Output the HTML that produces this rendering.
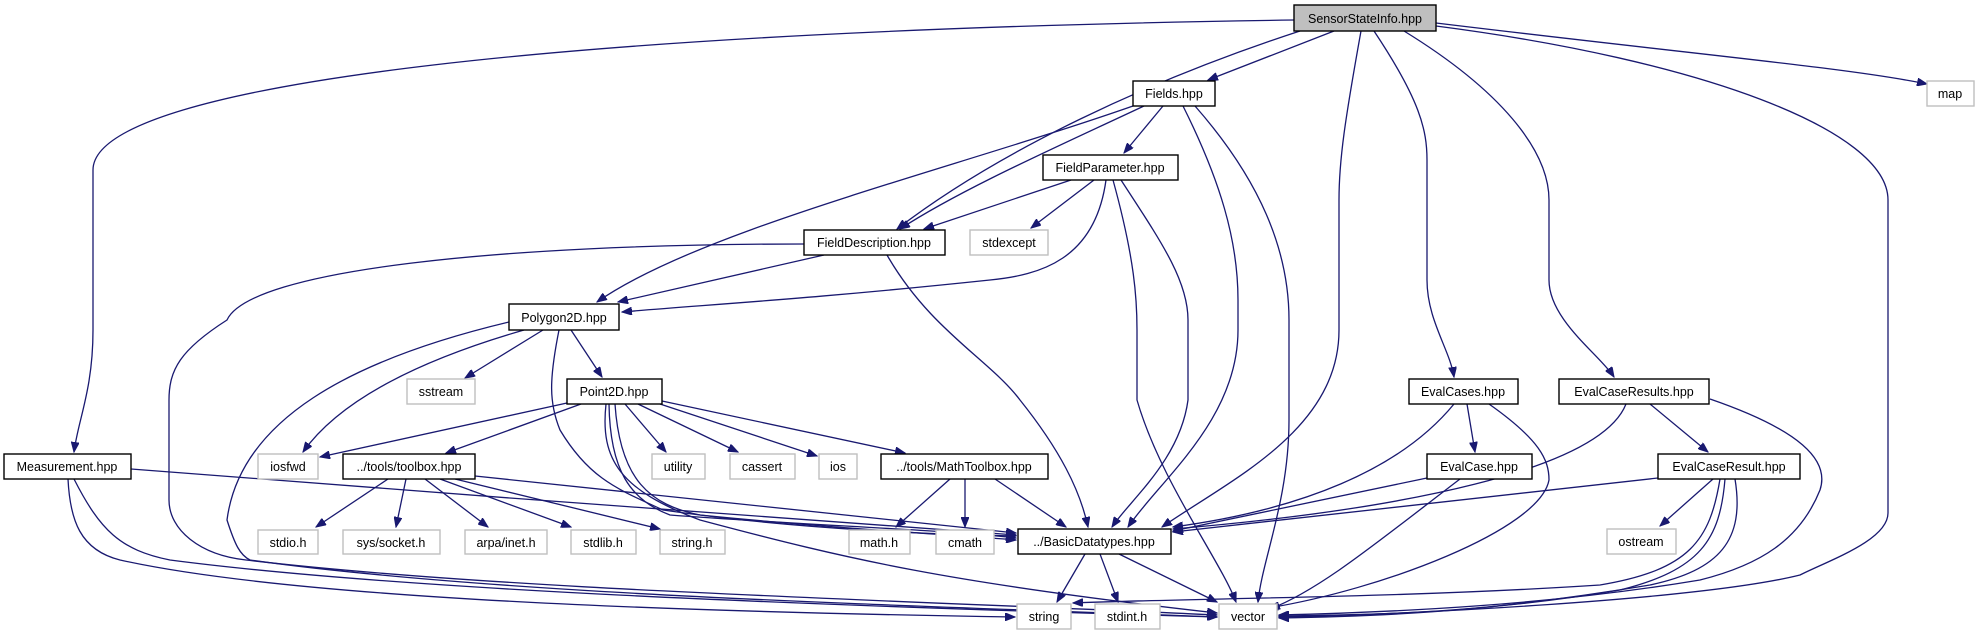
<!DOCTYPE html>
<html><head><meta charset="utf-8"><style>
html,body{margin:0;padding:0;background:#fff;}
svg{display:block;}
text{font-family:"Liberation Sans",Arial,sans-serif;font-size:12.5px;fill:#000;text-anchor:middle;}
.n{fill:#fff;stroke:#000;stroke-width:1.4;}
.s{fill:#fff;stroke:#bfbfbf;stroke-width:1.4;}
path{fill:none;stroke:#191970;stroke-width:1.3;}
</style></head><body>
<svg width="1980" height="635" viewBox="0 0 1980 635" xmlns="http://www.w3.org/2000/svg">
<defs>
<marker id="a" markerWidth="11" markerHeight="8" refX="10" refY="4" orient="auto" markerUnits="userSpaceOnUse">
<path d="M0,0 L10,4 L0,8 Z" style="fill:#191970;stroke:#191970;stroke-width:1"/>
</marker>
</defs>
<g marker-end="url(#a)">
<!-- SensorStateInfo -->
<path d="M1294,20 C600,30 93,80 93,170 L93,330 C93,390 78,420 74,452"/>
<path d="M1300,31 C1150,80 1000,150 897,229"/>
<path d="M1334,31 L1208,80"/>
<path d="M1361,31 C1345,120 1339,160 1339,200 L1339,330 C1339,430 1230,480 1162,527"/>
<path d="M1374,31 C1420,100 1427,130 1427,160 L1427,280 C1427,320 1450,350 1454,377"/>
<path d="M1404,31 C1500,90 1549,150 1549,200 L1549,280 C1549,320 1600,355 1614,377"/>
<path d="M1436,23 C1700,55 1850,68 1927,84"/>
<path d="M1436,26 C1700,60 1888,130 1888,200 L1888,513 C1888,540 1830,560 1800,575 C1700,600 1400,615 1279,617"/>
<!-- Fields -->
<path d="M1133,106 C950,170 700,230 597,302"/>
<path d="M1144,106 C1050,150 960,190 900,229"/>
<path d="M1163,106 L1124,153"/>
<path d="M1183,106 C1220,180 1238,240 1238,300 L1238,330 C1238,420 1160,480 1128,527"/>
<path d="M1195,106 C1260,180 1289,250 1289,320 L1289,420 C1289,500 1262,560 1258,602"/>
<!-- FieldParameter -->
<path d="M1071,180 L924,229"/>
<path d="M1094,180 L1031,228"/>
<path d="M1106,180 C1095,260 1040,275 990,280 C800,300 700,305 622,312"/>
<path d="M1113,180 C1135,260 1137,300 1137,330 L1137,400 C1160,480 1220,560 1236,602"/>
<path d="M1121,180 C1160,240 1188,280 1188,320 L1188,400 C1180,460 1130,500 1112,527"/>
<!-- FieldDescription -->
<path d="M824,255 L618,302"/>
<path d="M887,255 C930,330 990,360 1020,400 C1060,450 1080,490 1088,527"/>
<path d="M804,244 C500,244 250,270 227,320 C180,350 169,370 169,400 L169,500 C169,530 200,555 246,560 C500,590 900,600 1217,615"/>
<!-- Polygon2D -->
<path d="M543,330 L465,378"/>
<path d="M571,330 L602,377"/>
<path d="M524,330 C420,360 340,400 303,452"/>
<path d="M509,322 C350,360 240,420 227,520 C235,545 240,555 250,560 C500,595 900,605 1217,617"/>
<path d="M559,330 C549,380 549,403 560,430 C590,480 620,490 663,510 C800,530 950,535 1016,536"/>
<!-- Point2D -->
<path d="M567,403 L320,457"/>
<path d="M581,404 L446,453"/>
<path d="M625,404 L666,452"/>
<path d="M638,404 L738,452"/>
<path d="M660,404 L817,456"/>
<path d="M662,401 L905,453"/>
<path d="M609,404 C610,470 630,500 670,515 C800,525 950,530 1016,538"/>
<path d="M615,404 C620,480 650,505 700,515 C850,530 960,535 1016,540"/>
<path d="M606,404 C600,460 620,490 700,520 C850,560 950,583 1217,613"/>
<!-- Measurement -->
<path d="M131,469 C400,490 800,520 1016,535"/>
<path d="M68,479 C70,520 80,550 120,560 C300,600 700,612 1015,617"/>
<path d="M74,479 C100,530 120,550 170,560 C400,590 800,605 1217,617"/>
<!-- toolbox -->
<path d="M388,479 L316,527"/>
<path d="M406,479 L396,527"/>
<path d="M425,479 L488,527"/>
<path d="M440,479 L571,527"/>
<path d="M455,479 L660,529"/>
<path d="M475,476 L1016,533"/>
<!-- MathToolbox -->
<path d="M950,479 L896,527"/>
<path d="M965,479 L965,527"/>
<path d="M995,479 L1066,527"/>
<!-- BasicDatatypes -->
<path d="M1085,554 L1057,602"/>
<path d="M1100,554 L1118,602"/>
<path d="M1119,554 L1217,602"/>
<!-- EvalCases -->
<path d="M1467,404 L1475,452"/>
<path d="M1454,404 C1400,470 1300,510 1173,527"/>
<path d="M1489,404 C1540,440 1549,460 1549,480 C1540,530 1380,590 1268,608"/>
<!-- EvalCaseResults -->
<path d="M1650,404 L1708,452"/>
<path d="M1626,404 C1600,470 1400,510 1173,529"/>
<path d="M1710,399 C1800,430 1830,460 1820,490 C1800,540 1760,565 1700,580 C1550,605 1400,612 1279,615"/>
<!-- EvalCase -->
<path d="M1427,478 L1173,531"/>
<path d="M1460,479 C1380,540 1320,590 1270,609"/>
<!-- EvalCaseResult -->
<path d="M1658,478 L1173,532"/>
<path d="M1713,479 L1660,526"/>
<path d="M1725,479 C1720,540 1700,570 1620,590 C1500,610 1400,615 1279,616"/>
<path d="M1735,479 C1745,540 1720,570 1650,585 C1500,610 1400,616 1279,618"/>
<path d="M1720,479 C1710,540 1690,570 1600,585 C1400,598 1200,598 1073,603"/>
</g>
<!-- nodes -->
<rect x="1294" y="5" width="142" height="26" style="fill:#bfbfbf;stroke:#000;stroke-width:1.4"/><text x="1365" y="23">SensorStateInfo.hpp</text>
<rect class="n" x="1133" y="81" width="82" height="25"/><text x="1174" y="98">Fields.hpp</text>
<rect class="s" x="1927" y="81" width="47" height="25"/><text x="1950" y="98">map</text>
<rect class="n" x="1043" y="155" width="135" height="25"/><text x="1110" y="172">FieldParameter.hpp</text>
<rect class="s" x="970" y="230" width="78" height="25"/><text x="1009" y="247">stdexcept</text>
<rect class="n" x="804" y="230" width="141" height="25"/><text x="874" y="247">FieldDescription.hpp</text>
<rect class="n" x="509" y="304" width="110" height="26"/><text x="564" y="322">Polygon2D.hpp</text>
<rect class="s" x="407" y="379" width="68" height="25"/><text x="441" y="396">sstream</text>
<rect class="n" x="567" y="379" width="95" height="25"/><text x="614" y="396">Point2D.hpp</text>
<rect class="n" x="1409" y="379" width="109" height="25"/><text x="1463" y="396">EvalCases.hpp</text>
<rect class="n" x="1559" y="379" width="150" height="25"/><text x="1634" y="396">EvalCaseResults.hpp</text>
<rect class="n" x="4" y="454" width="127" height="25"/><text x="67" y="471">Measurement.hpp</text>
<rect class="s" x="258" y="454" width="60" height="25"/><text x="288" y="471">iosfwd</text>
<rect class="n" x="343" y="454" width="132" height="25"/><text x="409" y="471">../tools/toolbox.hpp</text>
<rect class="s" x="652" y="454" width="53" height="25"/><text x="678" y="471">utility</text>
<rect class="s" x="730" y="454" width="65" height="25"/><text x="762" y="471">cassert</text>
<rect class="s" x="819" y="454" width="38" height="25"/><text x="838" y="471">ios</text>
<rect class="n" x="881" y="454" width="167" height="25"/><text x="964" y="471">../tools/MathToolbox.hpp</text>
<rect class="n" x="1427" y="454" width="105" height="25"/><text x="1479" y="471">EvalCase.hpp</text>
<rect class="n" x="1658" y="454" width="142" height="25"/><text x="1729" y="471">EvalCaseResult.hpp</text>
<rect class="s" x="258" y="530" width="60" height="24"/><text x="288" y="547">stdio.h</text>
<rect class="s" x="343" y="530" width="97" height="24"/><text x="391" y="547">sys/socket.h</text>
<rect class="s" x="465" y="530" width="82" height="24"/><text x="506" y="547">arpa/inet.h</text>
<rect class="s" x="571" y="530" width="65" height="24"/><text x="603" y="547">stdlib.h</text>
<rect class="s" x="660" y="530" width="65" height="24"/><text x="692" y="547">string.h</text>
<rect class="s" x="849" y="530" width="61" height="24"/><text x="879" y="547">math.h</text>
<rect class="s" x="936" y="530" width="58" height="24"/><text x="965" y="547">cmath</text>
<rect class="n" x="1018" y="529" width="153" height="25"/><text x="1094" y="546">../BasicDatatypes.hpp</text>
<rect class="s" x="1607" y="529" width="69" height="25"/><text x="1641" y="546">ostream</text>
<rect class="s" x="1017" y="604" width="54" height="25"/><text x="1044" y="621">string</text>
<rect class="s" x="1095" y="604" width="65" height="25"/><text x="1127" y="621">stdint.h</text>
<rect class="s" x="1219" y="604" width="58" height="25"/><text x="1248" y="621">vector</text>
</svg>
</body></html>
